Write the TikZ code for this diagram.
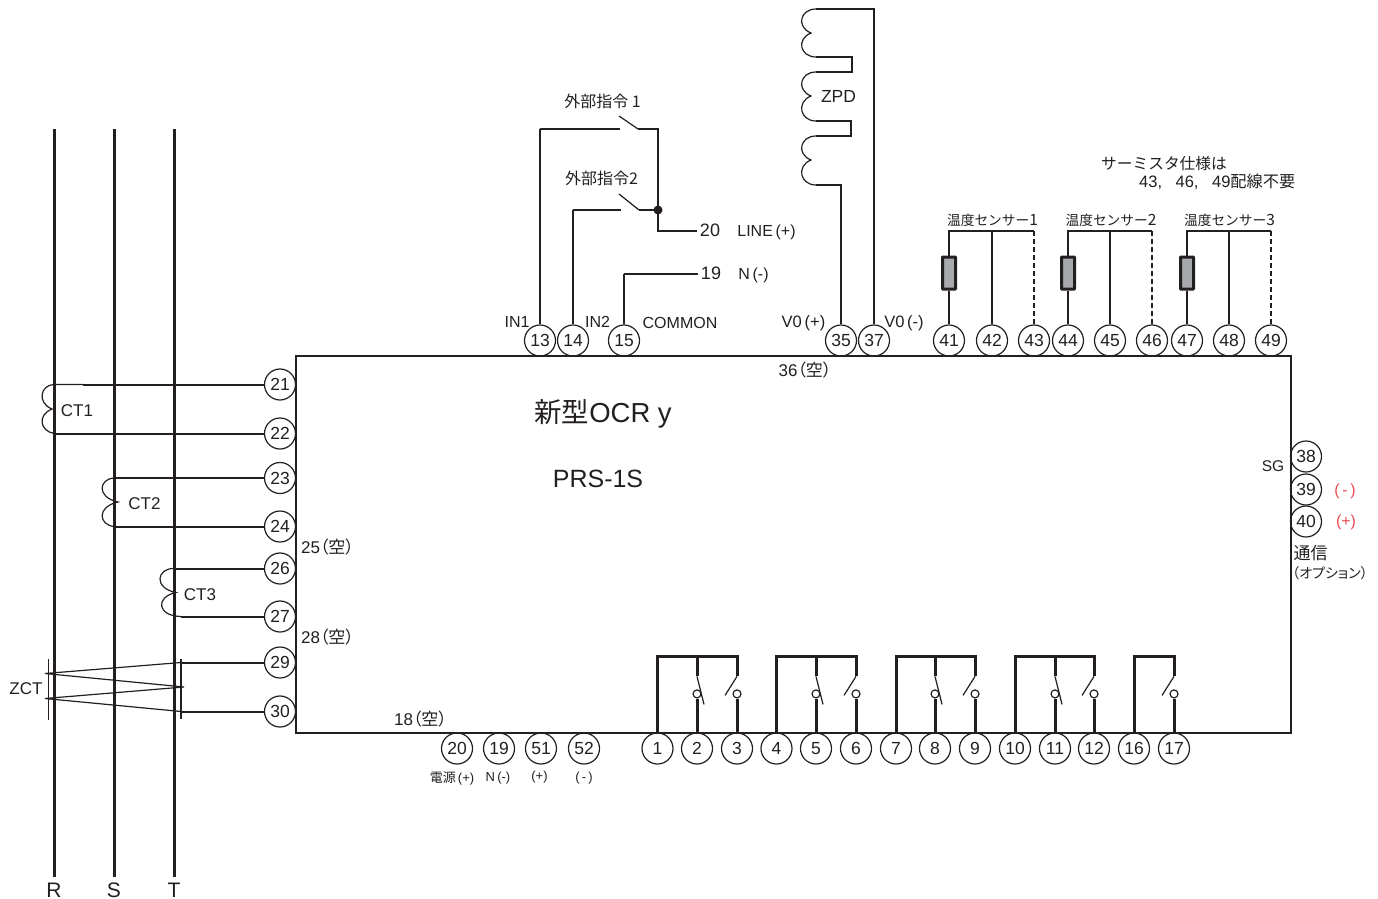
\documentclass[tikz,border=0pt]{standalone}
\usetikzlibrary{calc}
\usepackage{fontspec}
\setmainfont{Liberation Sans}
\newfontfamily\jp{Noto Sans CJK JP}
\newfontfamily\jpp[RawFeature=+palt]{Noto Sans CJK JP}
\definecolor{ink}{HTML}{231F20}
\definecolor{redtxt}{HTML}{EE4A52}
\definecolor{rgray}{HTML}{A7A9AC}
\newcommand{\fs}[1]{\fontsize{#1}{#1}\selectfont}
\newcommand{\sora}{{\jpp（空）}}
\tikzset{
  terminal/.style={circle,draw=ink,line width=1.2pt,minimum size=31pt,inner sep=0pt,font=\fs{17.5},text=ink},
  txt/.style={inner sep=0pt,text=ink,font=\fs{16}},
  jtxt/.style={inner sep=0pt,text=ink,font=\fs{14}\jp},
  bus/.style={draw=ink,line width=3pt},
  wire/.style={draw=ink,line width=2pt},
  thinw/.style={draw=ink,line width=1.2pt},
  contact/.style={circle,draw=ink,fill=white,line width=1.2pt,minimum size=8pt,inner sep=0pt},
  rbox/.style={draw=ink,fill=rgray,line width=3pt,minimum width=13pt,minimum height=32pt,inner sep=0pt,rounded corners=0.5pt},
}
\begin{document}
\begin{tikzpicture}[x=1pt,y=-1pt]
\useasboundingbox (0,0) rectangle (1378,899);
% main body
\node[draw=ink,line width=2pt,minimum width=995pt,minimum height=377pt,inner sep=0pt,anchor=north west] (body) at (295.4,355.4) {};
% phase buses
\foreach \n/\x in {R/54,S/114,T/174}{
  \coordinate (top\n) at (\x,129);
  \node[txt,font=\fs{21}] (lab\n) at (\x,890) {\n};
  \draw[bus] (top\n) -- (\x,877);
}
% terminals
\foreach \n/\y in {21/384.5,22/433.5,23/478,24/526.5,26/568.5,27/616.5,29/662.5,30/711.5}{\node[terminal] (t\n) at (280,\y) {\n};}
\foreach \n/\x in {13/540,14/573,15/624,35/841,37/874,41/949,42/992,43/1034,44/1068,45/1110,46/1152,47/1187,48/1229,49/1271}{\node[terminal] (t\n) at (\x,340.5) {\n};}
\foreach \n/\y in {38/456.5,39/489.5,40/521.5}{\node[terminal] (t\n) at (1306,\y) {\n};}
\foreach \n/\x in {20/457,19/499,51/541,52/584,1/657.5,2/697,3/737,4/776.5,5/816,6/856,7/896,8/935,9/975,10/1015,11/1055,12/1094,16/1134,17/1174}{\node[terminal] (t\n) at (\x,748.5) {\n};}
% CTs
\coordinate (ct1a) at (54,384.5); \coordinate (ct1m) at (83,384.5); \coordinate (ct1b) at (54,433.5);
\draw[thinw] (ct1m) -- (ct1a) .. controls (40,385) and (37,403) .. (52,409) .. controls (37,415) and (40,431) .. (ct1b);
\draw[wire] (ct1m) -- (t21.west);
\draw[wire] (ct1b) -- (t22.west);
\coordinate (ct2a) at (114,478); \coordinate (ct2b) at (114,526.5);
\draw[thinw] (ct2a) .. controls (99,479) and (96,497) .. (118,502) .. controls (96,507) and (99,525) .. (ct2b);
\draw[wire] (ct2a) -- (t23.west);
\draw[wire] (ct2b) -- (t24.west);
\coordinate (ct3a) at (174,568.5); \coordinate (ct3b) at (181,616.5);
\draw[thinw] (ct3a) .. controls (157,568) and (153,588) .. (176,592.5) .. controls (155,597) and (157,616) .. (ct3b);
\draw[wire] (ct3a) -- (t26.west);
\draw[wire] (ct3b) -- (t27.west);
% ZCT
\coordinate (zl1) at (48.5,659); \coordinate (zl2) at (48.5,720);
\coordinate (zr1) at (181,659); \coordinate (zr2) at (181,719);
\coordinate (zt1) at (45,673.5); \coordinate (zt2) at (45,698.5);
\coordinate (zm) at (184,687); \coordinate (zu) at (181,662.5); \coordinate (zd) at (181,711.5);
\draw[thinw] (zl1) -- (zl2);
\draw[thinw] (zr1) -- (zr2);
\draw[thinw] (zu) -- (zt1) -- (zm) -- (zt2) -- (zd);
\draw[wire] (zu) -- (t29.west);
\draw[wire] (zd) -- (t30.west);
% external commands
\coordinate (s1a) at (620,129); \coordinate (s1b) at (638,129); \coordinate (s1t) at (619,116);
\coordinate (s2a) at (621,210); \coordinate (s2b) at (639,210); \coordinate (s2t) at (619,194);
\coordinate (j) at (658,210);
\node[txt,font=\fs{18},inner xsep=3pt] (lab20) at (710,230.5) {20};
\node[txt,font=\fs{18},inner xsep=3pt] (lab19) at (711,273.5) {19};
\draw[thinw] (t13.north) -- (540,129);
\draw[wire] (539.5,129) -- (s1a);
\draw[thinw] (s1t) -- (s1b);
\draw[wire,line join=miter] (s1b) -- (658,129) -- (658,230.5) -- (lab20.west);
\draw[thinw] (t14.north) -- (573,210);
\draw[wire] (572.5,210) -- (s2a);
\draw[thinw] (s2t) -- (s2b);
\draw[wire] (s2b) -- (j);
\fill[ink] (j) circle (4.5pt);
\draw[thinw] (t15.north) -- (624,273.5);
\draw[wire] (623.5,273.5) -- (lab19.west);
% ZPD
\coordinate (z1) at (816,9); \coordinate (z2) at (816,57); \coordinate (z3) at (816,72);
\coordinate (z4) at (816,121); \coordinate (z5) at (816,136); \coordinate (z6) at (816,185);
\draw[thinw] (z1) .. controls (800,9) and (796,27) .. (811,33) .. controls (796,39) and (800,57) .. (z2);
\draw[thinw] (z3) .. controls (800,72) and (796,90) .. (811,96) .. controls (796,102) and (800,121) .. (z4);
\draw[thinw] (z5) .. controls (800,136) and (796,154) .. (811,160) .. controls (796,166) and (800,185) .. (z6);
\draw[wire] (z2) -- (852,57) -- (852,72) -- (z3);
\draw[wire] (z4) -- (851,121) -- (851,136) -- (z5);
\draw[wire] (z6) -- (841,185) -- (t35.north);
\draw[wire] (z1) -- (874,9) -- (t37.north);
% sensors
\foreach \a/\b/\c/\x in {41/42/43/949,44/45/46/1068,47/48/49/1187}{
  \node[rbox] (r\a) at (\x,273) {};
  \draw[wire] (t\a.north) -- (r\a.south);
  \draw[wire] (r\a.north) -- (\x,231) -| (t\b.north);
  \draw[wire] (\x,231) -| (t\c.north |- 0,231);
  \draw[wire,dash pattern=on 5pt off 3pt,line width=1.6pt] (t\c.north |- 0,231) -- (t\c.north);
}
% relay contacts
\foreach \a/\b/\c in {1/2/3,4/5/6,7/8/9,10/11/12}{
  \path (t\a.north) ++(0,-76) coordinate (bar\a);
  \node[contact] (k\b) at ($(t\b.north)+(0,-38.5)$) {};
  \node[contact] (k\c) at ($(t\c.north)+(0,-38.5)$) {};
  \draw[bus] (t\a.north) -- (bar\a) -- (bar\a -| t\c) -- ++(0,20) coordinate (e\c);
  \draw[bus] (bar\a -| t\b) -- ++(0,20) coordinate (e\b);
  \draw[bus] (k\b.south) -- (t\b.north);
  \draw[bus] (k\c.south) -- (t\c.north);
  \draw[thinw] (e\b) -- ++(7,28);
  \draw[thinw] (e\c) -- ++(-12,19);
}
\path (t16.north) ++(0,-76) coordinate (bar16);
\node[contact] (k17) at ($(t17.north)+(0,-38.5)$) {};
\draw[bus] (t16.north) -- (bar16) -- (bar16 -| t17) -- ++(0,20) coordinate (e17);
\draw[bus] (k17.south) -- (t17.north);
\draw[thinw] (e17) -- ++(-12,19);
% labels
\node[txt,font=\fs{17}] (ct1) at (77,410.5) {CT1};
\node[txt,font=\fs{17}] (ct2) at (144.5,503.5) {CT2};
\node[txt,font=\fs{17}] (ct3) at (200,594.5) {CT3};
\node[txt,font=\fs{17}] (zct) at (26,688.5) {ZCT};
\node[txt,font=\fs{17}] (l25) at (327.5,547) {25\sora};
\node[txt,font=\fs{17}] (l28) at (327.5,637) {28\sora};
\node[txt,font=\fs{17}] (l18) at (420.5,719) {18\sora};
\node[txt,font=\fs{17}] (l36) at (805,370) {36\sora};
\node[txt,font=\fs{27.5}] (title) at (603,414) {{\jp 新型}OCR y};
\node[txt,font=\fs{25}] (model) at (598,479) {PRS-1S};
\node[jtxt,font=\fs{16}\jp] (c1) at (602.5,101) {外部指令 1};
\node[jtxt,font=\fs{16}\jp] (c2) at (601.5,178) {外部指令2};
\node[txt,font=\fs{16}] (line) at (766.5,232) {LINE\,(+)};
\node[txt,font=\fs{16}] (nm) at (753.5,275) {N\,(-)};
\node[txt,font=\fs{16}] (in1) at (517,321.5) {IN1};
\node[txt,font=\fs{16}] (in2) at (597.5,321.5) {IN2};
\node[txt,font=\fs{16}] (com) at (680,322.5) {COMMON};
\node[txt,font=\fs{16.5}] (vp) at (803.5,323) {V0\,(+)};
\node[txt,font=\fs{16.5}] (vm) at (904,323) {V0\,(-)};
\node[txt,font=\fs{17.5}] (zpd) at (838.5,96.5) {ZPD};
\node[jtxt,font=\fs{15.7}\jp] (n1) at (1164,164) {サーミスタ仕様は};
\node[txt,anchor=west,font=\fs{16.5}] (n2) at (1139,182) {43,\hspace{13.5pt}46,\hspace{13.5pt}49{\jp\fs{16.2}配線不要}};
\node[jtxt,font=\fs{13.7}\jp] (s1) at (992.5,220) {温度センサー{\fs{15.5}1}};
\node[jtxt,font=\fs{13.7}\jp] (s2) at (1111,220) {温度センサー{\fs{15.5}2}};
\node[jtxt,font=\fs{13.7}\jp] (s3) at (1229.5,220) {温度センサー{\fs{15.5}3}};
\node[txt,font=\fs{15.5}] (sg) at (1273,466.5) {SG};
\node[txt,text=redtxt,font=\fs{16}] (m) at (1345,491) {(\,-\,)};
\node[txt,text=redtxt,font=\fs{16}] (p) at (1346,522.5) {(+)};
\node[jtxt,font=\fs{17}\jp] (tsu) at (1310.5,553) {通信};
\node[jtxt,font=\fs{14}\jpp] (opt) at (1330,573) {（オプション）};
\node[jtxt,font=\fs{13}\jp] (b1) at (452,778) {電源{\rmfamily\,(+)}};
\node[txt,font=\fs{13}] (b2) at (498,778.5) {N\,(-)};
\node[txt,font=\fs{13}] (b3) at (539.5,777.5) {(+)};
\node[txt,font=\fs{13}] (b4) at (584,778.5) {(\,-\,)};
\end{tikzpicture}
\end{document}
